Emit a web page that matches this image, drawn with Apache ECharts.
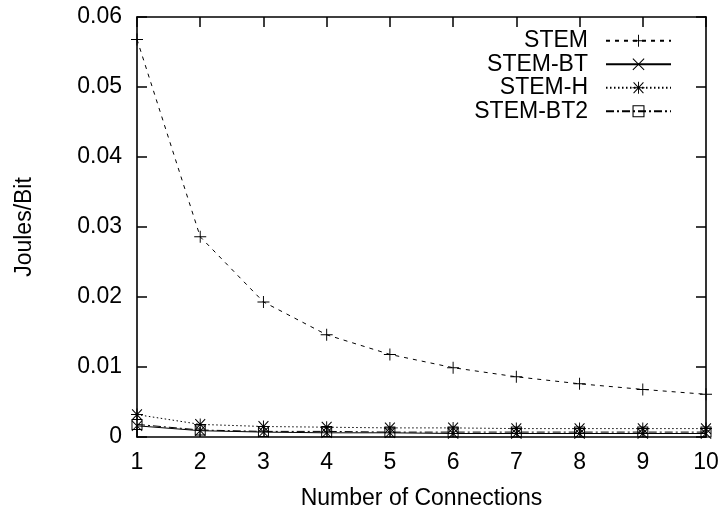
<!DOCTYPE html>
<html>
<head>
<meta charset="utf-8">
<script src="https://cdn.jsdelivr.net/npm/echarts@6/dist/echarts.min.js"></script>
<style>
  html, body { margin: 0; padding: 0; background: #fff; }
  #chart { width: 722px; height: 515px; }
</style>
</head>
<body>
<div id="chart"></div>
<script>
// Number of connections on the x axis
const connections = [1, 2, 3, 4, 5, 6, 7, 8, 9, 10];

// Energy per bit (Joules/Bit) for each scheme
const stem    = [0.0568, 0.0286, 0.0193, 0.0146, 0.0118, 0.0099, 0.0086, 0.0076, 0.0068, 0.0061];
const stemBT  = [0.0016, 0.0009, 0.0007, 0.0006, 0.0006, 0.0005, 0.0005, 0.0005, 0.0005, 0.0005];
const stemH   = [0.0032, 0.0018, 0.0015, 0.0014, 0.0013, 0.0013, 0.0012, 0.0012, 0.0012, 0.0012];
const stemBT2 = [0.0018, 0.0010, 0.0008, 0.0008, 0.0007, 0.0007, 0.0007, 0.0007, 0.0007, 0.0007];

const seriesNames = ['STEM', 'STEM-BT', 'STEM-H', 'STEM-BT2'];

// Tick labels
const yTickLabels = ['0', '0.01', '0.02', '0.03', '0.04', '0.05', '0.06'];
const xTickLabels = ['1', '2', '3', '4', '5', '6', '7', '8', '9', '10'];

// Point symbols drawn as filled outlines
const PLUS  = 'path://M0,4.6H10V5.4H0Z M4.6,0H5.4V10H4.6Z';
const CROSS = 'path://M0,0.6L0.6,0L10,9.4L9.4,10Z M9.4,0L10,0.6L0.6,10L0,9.4Z';
const STAR  = 'path://M0,4.6H10V5.4H0Z M4.6,0H5.4V10H4.6Z M0.6,0.9L1.2,0.3L9.4,9.1L8.8,9.7Z M8.8,0.3L9.4,0.9L1.2,9.7L0.6,9.1Z';
const BOX   = 'path://M0,0H10V10H0Z M0.9,0.9V9.1H9.1V0.9Z';

const FONT = 'Liberation Sans, Arial, Helvetica, sans-serif';
const FS = 23;

function pairs(vals) {
  return connections.map((c, i) => [c, vals[i]]);
}

function makeSeries(name, vals, symbol, size, lineType) {
  return {
    name: name,
    type: 'line',
    data: pairs(vals),
    symbol: symbol,
    symbolSize: size,
    showSymbol: true,
    clip: false,
    lineStyle: { color: '#000', width: 1, type: lineType },
    itemStyle: { color: '#000', borderWidth: 0 },
    emphasis: { disabled: true },
    z: 3
  };
}

const chart = echarts.init(document.getElementById('chart'), null, { renderer: 'canvas' });

const axisLineStyle = { color: '#000', width: 1.6 };

chart.setOption({
  animation: false,
  backgroundColor: '#fff',
  textStyle: { fontFamily: FONT, color: '#000' },
  grid: { left: 137, right: 16, top: 17, bottom: 76.5, containLabel: false },
  legend: {
    orient: 'vertical',
    align: 'right',
    right: 50,
    top: 29,
    padding: 0,
    itemGap: 0,
    itemWidth: 65,
    itemHeight: 15,
    data: seriesNames,
    textStyle: { fontFamily: FONT, fontSize: FS, color: '#000', lineHeight: 23.5, padding: [0, 13, 0, 0] }
  },
  xAxis: [
    {
      type: 'value', min: 1, max: 10, interval: 1, position: 'bottom',
      name: 'Number of Connections', nameLocation: 'middle', nameGap: 50,
      nameTextStyle: { fontFamily: FONT, fontSize: FS, color: '#000' },
      axisLine: { show: true, onZero: false, lineStyle: axisLineStyle },
      axisTick: { show: true, inside: true, length: 10, lineStyle: { color: '#000', width: 1.5 } },
      axisLabel: {
        fontFamily: FONT, fontSize: FS, color: '#000', margin: 14,
        formatter: v => xTickLabels[Math.round(v) - 1]
      },
      splitLine: { show: false }
    },
    {
      type: 'value', min: 1, max: 10, interval: 1, position: 'top',
      axisLine: { show: true, onZero: false, lineStyle: axisLineStyle },
      axisTick: { show: true, inside: true, length: 10, lineStyle: { color: '#000', width: 1.5 } },
      axisLabel: { show: false },
      splitLine: { show: false }
    }
  ],
  yAxis: [
    {
      type: 'value', min: 0, max: 0.06, interval: 0.01, position: 'left',
      name: 'Joules/Bit', nameLocation: 'middle', nameGap: 101, nameRotate: 90,
      nameTextStyle: { fontFamily: FONT, fontSize: FS, color: '#000' },
      axisLine: { show: true, onZero: false, lineStyle: axisLineStyle },
      axisTick: { show: true, inside: true, length: 10, lineStyle: { color: '#000', width: 1.5 } },
      axisLabel: {
        fontFamily: FONT, fontSize: FS, color: '#000', margin: 15,
        formatter: v => yTickLabels[Math.round(v / 0.01)]
      },
      splitLine: { show: false }
    },
    {
      type: 'value', min: 0, max: 0.06, interval: 0.01, position: 'right',
      axisLine: { show: true, onZero: false, lineStyle: axisLineStyle },
      axisTick: { show: true, inside: true, length: 10, lineStyle: { color: '#000', width: 1.5 } },
      axisLabel: { show: false },
      splitLine: { show: false }
    }
  ],
  series: [
    makeSeries(seriesNames[0], stem, PLUS, 12, [4, 5]),
    makeSeries(seriesNames[1], stemBT, CROSS, 11, 'solid'),
    makeSeries(seriesNames[2], stemH, STAR, 12, [1.5, 2.5]),
    makeSeries(seriesNames[3], stemBT2, BOX, 11, [8, 3, 2, 3])
  ]
});
</script>
</body>
</html>
